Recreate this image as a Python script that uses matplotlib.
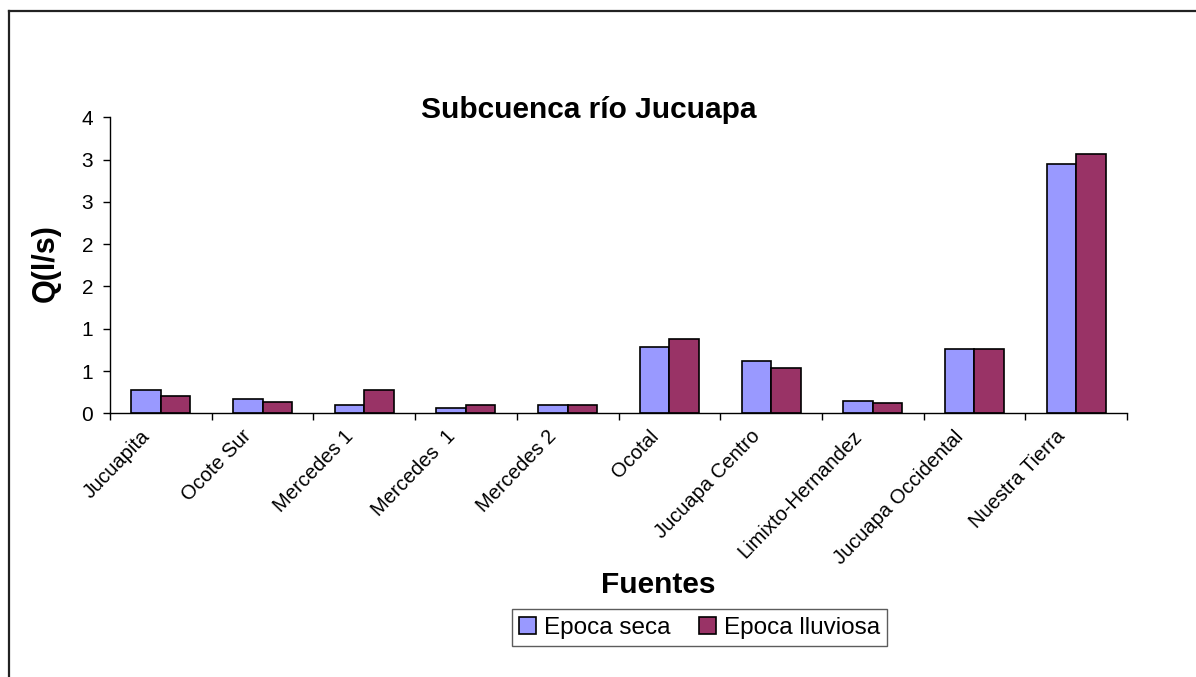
import numpy as np
import matplotlib
matplotlib.use('Agg')
import matplotlib.pyplot as plt
from matplotlib.lines import Line2D
from matplotlib.transforms import Bbox, ScaledTranslation, blended_transform_factory

plt.rcParams['font.family'] = ['Liberation Sans', 'DejaVu Sans']

fuentes = ['Jucuapita', 'Ocote Sur', 'Mercedes 1', 'Mercedes  1', 'Mercedes 2',
           'Ocotal', 'Jucuapa Centro', 'Limixto-Hernandez', 'Jucuapa Occidental',
           'Nuestra Tierra']
seca = [0.27, 0.17, 0.10, 0.06, 0.10, 0.79, 0.62, 0.15, 0.76, 2.95]
lluviosa = [0.20, 0.13, 0.28, 0.10, 0.10, 0.88, 0.53, 0.12, 0.76, 3.07]
yticks = [0, 0.5, 1, 1.5, 2, 2.5, 3, 3.5]
ytick_labels = ['0', '1', '1', '2', '2', '3', '3', '4']

x = np.arange(len(fuentes))
width = 0.29

fig = plt.figure(figsize=(11.96, 6.77), dpi=100)
ax = fig.add_axes([0.092, 0.3895, 0.8503, 0.4372])

ax.bar(x - width / 2, seca, width, color='#9999FF', edgecolor='black',
       linewidth=1.2, label='Epoca seca')
ax.bar(x + width / 2, lluviosa, width, color='#993366', edgecolor='black',
       linewidth=1.2, label='Epoca lluviosa')

ax.set_xlim(-0.5, len(fuentes) - 0.5)
ax.set_ylim(0, 3.5)

ax.spines['top'].set_visible(False)
ax.spines['right'].set_visible(False)
ax.spines['left'].set_linewidth(1.0)
ax.spines['bottom'].set_linewidth(1.0)

ax.set_yticks(yticks)
ax.set_yticklabels(ytick_labels, fontsize=15)
ax.tick_params(axis='y', direction='out', length=5, width=1, pad=7)

# tick marks between categories
ax.set_xticks(np.arange(len(fuentes) + 1) - 0.5)
ax.set_xticklabels([])
ax.tick_params(axis='x', direction='out', length=5, width=1)

# category names, rotated; long names get cut off just under the axis
base = blended_transform_factory(ax.transData, ax.transAxes)
shift = ScaledTranslation(-14 / 100, -20 / 100, fig.dpi_scale_trans)
clip = Bbox.from_extents(0, 0, 1196, 677 - 422)
for i, name in enumerate(fuentes):
    t = fig.text(x[i], 0, name, transform=base + shift, rotation=46,
                 ha='right', va='center', rotation_mode='anchor', fontsize=14.5)
    t.set_clip_box(clip)
    t.set_clip_on(True)

fig.text(0.492, 0.838, 'Subcuenca río Jucuapa', ha='center', va='center',
         fontsize=21.5, fontweight='bold')
fig.text(0.038, 0.611, 'Q(l/s)', ha='center', va='center', rotation=90,
         fontsize=22, fontweight='bold')
fig.text(0.550, 0.136, 'Fuentes', ha='center', va='center',
         fontsize=21.5, fontweight='bold')

leg = fig.legend(loc='center', bbox_to_anchor=(0.585, 0.073), ncol=2,
                 fontsize=17.5, frameon=True, fancybox=False, handlelength=0.7,
                 handleheight=0.7, handletextpad=0.3, columnspacing=1.2,
                 borderpad=0.3)
leg.get_frame().set_edgecolor('#333333')
leg.get_frame().set_linewidth(1.0)

# outer chart border (left and top edges visible)
fig.add_artist(Line2D([9 / 1196, 9 / 1196], [0, 1 - 11 / 677], color='#222222',
                      linewidth=1.6, transform=fig.transFigure))
fig.add_artist(Line2D([9 / 1196, 1], [1 - 11 / 677, 1 - 11 / 677], color='#222222',
                      linewidth=1.6, transform=fig.transFigure))

fig.savefig('out.png', dpi=100, facecolor='white')
